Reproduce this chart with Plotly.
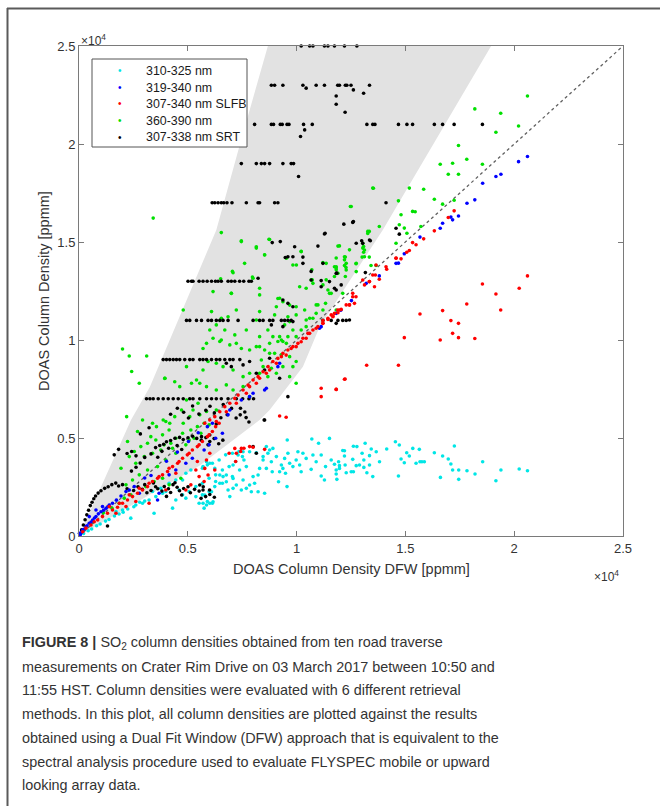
import plotly.graph_objects as go

# ---------------- data (both axes in units of 10^4 ppmm) ----------------
series_names = ["310-325 nm", "319-340 nm", "307-340 nm SLFB", "360-390 nm", "307-338 nm SRT"]
series_colors = ["#00e6e6", "#0000ff", "#ff0000", "#00e000", "#000000"]

cyan_pts = [
    (2.061,0.333),(2.023,0.342),(1.939,0.337),(1.916,0.282),(1.855,0.379),(1.820,0.316),(1.783,0.333),
    (1.745,0.337),(1.745,0.289),(1.725,0.459),(1.717,0.337),(1.709,0.367),(1.697,0.393),(1.671,0.408),
    (1.661,0.299),(1.633,0.425),(1.587,0.379),(1.567,0.379),(1.549,0.371),(1.534,0.447),(1.518,0.408),
    (1.506,0.425),(1.495,0.374),(1.480,0.393),(1.472,0.464),(1.468,0.306),(1.454,0.481),(1.414,0.444),
    (1.381,0.379),(1.366,0.430),(1.350,0.303),(1.343,0.444),(1.335,0.410),(1.335,0.362),(1.323,0.323),
    (1.315,0.473),(1.309,0.388),(1.309,0.350),(1.301,0.422),(1.277,0.456),(1.274,0.359),(1.261,0.458),
    (1.261,0.328),(1.251,0.328),(1.228,0.323),(1.223,0.362),(1.220,0.435),(1.220,0.408),(1.197,0.359),
    (1.193,0.379),(1.185,0.289),(1.182,0.337),(1.182,0.316),(1.174,0.366),(1.151,0.498),(1.576,0.379),
    (1.564,0.442),(1.212,0.436),(1.258,0.391),(1.289,0.362),(1.159,0.388),(1.197,0.345),
    (0.957,0.490),(1.070,0.495),(1.101,0.473),(1.133,0.354),(1.128,0.286),(1.113,0.306),(1.090,0.379),
    (1.067,0.340),(1.044,0.396),(1.029,0.422),(1.021,0.328),(0.998,0.388),(0.983,0.354),(1.006,0.430),
    (0.960,0.422),(0.945,0.396),(0.930,0.362),(0.922,0.328),(0.949,0.320),(0.917,0.277),(0.956,0.252),
    (0.907,0.405),(0.884,0.379),(0.888,0.328),(0.868,0.422),(0.861,0.345),(0.891,0.447),(0.876,0.439),
    (0.846,0.388),(0.830,0.345),(0.823,0.311),(0.800,0.303),(0.807,0.269),(0.784,0.260),(0.792,0.226),
    (0.769,0.243),(0.746,0.235),(0.754,0.286),(0.723,0.260),(0.708,0.243),(0.685,0.235),(0.693,0.201),
    (0.677,0.277),(0.662,0.303),(0.647,0.269),(0.624,0.252),(0.616,0.175),(0.601,0.167),(0.586,0.158),
    (0.570,0.167),(0.578,0.209),(0.609,0.226),(0.738,0.337),(0.769,0.354),(0.708,0.362),(0.731,0.413),
    (0.754,0.430),(0.784,0.430),(0.815,0.425),(0.861,0.456),(0.846,0.405),(0.708,0.294),(0.647,0.311),
    (0.624,0.345),(0.601,0.371),(0.586,0.379),(0.570,0.354),(0.823,0.226),(0.853,0.218),(0.677,0.311),
    (0.937,0.345),(0.968,0.371),(1.014,0.362),(1.075,0.413),(1.113,0.413),
    (0.238,0.091),(0.345,0.116),(0.430,0.142),(0.445,0.184),(0.476,0.210),(0.506,0.227),(0.537,0.252),
    (0.567,0.269),(0.598,0.295),(0.628,0.312),(0.659,0.337),(0.690,0.354),(0.720,0.380),(0.751,0.405),
    (0.491,0.320),(0.514,0.337),(0.567,0.346),(0.590,0.363),(0.613,0.371),(0.644,0.388),(0.674,0.414),
    (0.705,0.422),(0.735,0.431),(0.758,0.388),(0.705,0.303),(0.659,0.269),(0.628,0.278),(0.598,0.227),
    (0.567,0.210),(0.537,0.201),(0.590,0.176),(0.613,0.167),(0.575,0.142),(0.552,0.167),(0.491,0.193),
    (0.460,0.235),(0.399,0.227),(0.376,0.244),(0.353,0.201),(0.322,0.184),(0.292,0.167),(0.261,0.158),
    (0.200,0.133),(0.170,0.125),(0.414,0.269),(0.445,0.286),(0.476,0.286),(0.384,0.218),(0.338,0.227),
    (0.021,0.013),(0.042,0.027),(0.058,0.036),(0.081,0.052),(0.097,0.061),(0.122,0.076),(0.138,0.084),
    (0.163,0.102),(0.184,0.112),(0.203,0.121),(0.224,0.138),(0.252,0.149),(0.279,0.172),(0.302,0.178),
]

blue_pts = [
    (2.061,1.936),(2.020,1.910),(1.939,1.846),(1.916,1.834),(1.855,1.800),(1.819,1.715),(1.783,1.698),
    (1.744,1.633),(1.717,1.613),(1.709,1.627),(1.671,1.596),(1.660,1.570),(1.567,1.525),(1.495,1.440),
    (1.468,1.392),(1.457,1.391),(1.320,1.289),(1.380,1.327),(1.252,1.201),(1.203,1.152),
    (1.182,1.136),(1.113,1.068),(1.105,1.060),(0.914,0.864),(0.922,0.881),(0.861,0.754),(0.853,0.745),
    (0.800,0.728),(0.784,0.711),(0.746,0.694),(0.693,0.643),(0.685,0.618),
    (0.002,0.014),(0.017,0.031),(0.032,0.048),(0.047,0.065),(0.063,0.082),(0.078,0.099),(0.101,0.124),
    (0.124,0.141),(0.139,0.158),(0.154,0.167),(0.078,0.133),(0.108,0.150),(0.047,0.099),(0.216,0.227),
    (0.231,0.235),(0.254,0.252),(0.277,0.218),(0.368,0.218),(0.361,0.184),(0.414,0.312),(0.445,0.337),
    (0.491,0.371),(0.521,0.397),(0.575,0.439),(0.598,0.465),(0.628,0.499),(0.659,0.524),(0.590,0.558),
    (0.613,0.575),(0.006,0.007),(0.011,0.018),(0.026,0.036),(0.037,0.052),(0.056,0.071),(0.071,0.092),
    (0.089,0.113),(0.113,0.131),(0.132,0.149),(0.172,0.183),(0.193,0.204),(0.302,0.296),(0.331,0.309),
    (0.402,0.381),(0.452,0.428),(0.503,0.482),(0.548,0.527),
]

red_pts = [
    (1.854,1.286),(1.916,1.235),(1.938,1.153),(2.023,1.264),(1.782,1.184),(1.671,1.150),(1.709,1.099),
    (1.744,1.085),(1.567,1.133),(1.717,1.034),(1.744,1.012),(1.819,1.008),(1.660,1.000),(1.495,1.012),
    (1.468,0.871),(1.322,0.871),(1.223,0.801),(1.182,0.748),(1.304,1.306),(1.334,1.298),(1.258,1.238),
    (1.266,1.187),(1.243,1.179),(1.273,1.221),(1.189,1.153),(1.174,1.136),(1.159,1.128),(2.061,1.327),
    (1.724,1.659),(1.697,1.625),(1.633,1.557),(1.584,1.516),(1.549,1.486),(1.533,1.497),(1.518,1.457),
    (1.506,1.448),(1.480,1.414),(1.457,1.418),(1.414,1.361),(1.362,1.332),(1.380,1.310),
    (1.457,1.417),(1.411,1.374),(1.365,1.383),(1.350,1.332),(1.335,1.298),(1.312,1.281),(1.258,1.221),
    (1.228,1.179),(1.197,1.153),(1.167,1.119),(1.144,1.111),(1.121,1.085),(1.090,1.060),(1.060,1.034),
    (1.243,1.179),(1.358,1.272),
    (0.578,0.575),(0.601,0.592),(0.624,0.609),(0.647,0.634),(0.670,0.660),(0.693,0.677),(0.716,0.702),
    (0.731,0.719),(0.754,0.745),(0.777,0.770),(0.800,0.796),(0.823,0.813),(0.846,0.838),(0.869,0.864),
    (0.891,0.890),(0.914,0.906),(0.937,0.932),(0.960,0.949),(0.983,0.966),(1.006,0.983),(1.029,1.009),
    (1.052,1.034),(1.075,1.051),(1.098,1.068),(1.121,1.085),(1.144,1.105),(1.167,1.122),(1.190,1.139),
    (1.205,1.156),(0.631,0.584),(0.677,0.634),(0.723,0.677),(0.769,0.728),(0.815,0.779),(0.861,0.830),
    (0.907,0.881),(0.952,0.923),(0.998,0.966),(1.044,1.009),(0.784,0.762),(0.830,0.805),(0.876,0.847),
    (0.930,0.915),(0.975,0.957),(1.021,0.991),(1.121,1.099),(1.113,0.754),(1.113,0.711),(1.182,0.748),
    (1.220,0.800),(0.922,0.612),(0.952,0.606),
    (0.017,0.022),(0.032,0.040),(0.055,0.056),(0.070,0.073),(0.086,0.082),(0.108,0.099),(0.131,0.116),
    (0.154,0.133),(0.177,0.147),(0.200,0.167),(0.223,0.184),(0.246,0.201),(0.269,0.218),(0.292,0.235),
    (0.315,0.252),(0.338,0.278),(0.361,0.295),(0.384,0.312),(0.407,0.329),(0.430,0.354),(0.453,0.371),
    (0.476,0.397),(0.498,0.414),(0.521,0.439),(0.544,0.456),(0.567,0.482),(0.590,0.507),(0.613,0.533),
    (0.628,0.558),(0.644,0.575),(0.139,0.150),(0.185,0.167),(0.231,0.210),(0.277,0.244),(0.322,0.269),
    (0.368,0.303),(0.414,0.346),(0.460,0.380),(0.506,0.422),(0.552,0.465),(0.598,0.516),(0.216,0.150),
    (0.261,0.176),(0.170,0.116),(0.322,0.167),(0.399,0.235),(0.445,0.320),(0.491,0.235),(0.537,0.337),
    (0.552,0.303),(0.575,0.278),(0.544,0.380),(0.514,0.261),(0.720,0.380),(0.743,0.431),(0.758,0.448),
    (0.690,0.422),(0.716,0.447),(0.746,0.447),(0.784,0.456),(0.800,0.453),(0.723,0.422),(0.853,0.442),
    (0.586,0.388),(0.578,0.345),(0.593,0.311),(0.624,0.337),(0.601,0.422),
]

green_pts = [
    (2.061,2.245),(1.819,2.179),(1.938,2.157),(2.020,2.092),(1.916,2.060),(1.744,1.992),(1.782,1.922),
    (1.854,1.897),(1.660,1.897),(1.717,1.902),(1.697,1.846),(1.744,1.846),(1.518,1.775),(1.584,1.769),
    (1.350,1.775),(1.633,1.718),(1.468,1.710),(1.671,1.693),(1.724,1.713),(1.533,1.656),(1.545,1.654),
    (1.247,1.681),(1.480,1.639),(1.571,1.579),(1.380,1.579),(1.472,1.588),(1.495,1.571),(1.507,1.545),
    (1.327,1.554),(1.334,1.554),(1.457,1.494),(1.197,1.480),(1.308,1.477),(1.308,1.448),(1.301,1.423),
    (1.334,1.423),(1.224,1.423),(1.365,1.380),(1.342,1.380),(1.273,1.389),(1.227,1.370),(1.220,1.380),
    (1.182,1.367),(1.224,1.324),(1.174,1.324),
    (0.341,1.622),(1.353,1.774),(1.251,1.681),(1.304,1.494),(1.304,1.469),(1.243,1.460),(1.021,1.452),
    (1.121,1.395),(1.182,1.418),(1.220,1.409),(1.182,1.358),(1.136,1.307),(1.070,1.307),(1.070,1.358),
    (0.853,1.435),(0.873,1.514),(0.815,1.469),(0.746,1.506),(0.654,1.548),(0.705,1.350),(0.651,1.312),
    (0.797,1.321),
    (0.746,1.502),(0.876,1.513),(0.761,1.391),(0.708,1.343),(0.999,1.383),(1.174,1.374),(1.190,1.479),
    (1.072,1.306),(1.075,1.289),(1.044,1.264),(1.121,1.281),(1.151,1.238),(1.212,1.238),(1.098,1.179),
    (1.133,1.187),(1.182,1.153),(0.914,1.212),(0.937,1.195),(0.968,1.178),(0.998,1.170),(0.830,1.264),
    (0.700,1.238),(0.616,1.247),(0.479,1.153),(0.723,1.153),(0.685,1.119),(0.654,1.111),(0.815,1.102),
    (0.830,1.145),(0.899,1.128),(0.960,1.119),(0.998,1.128),(1.044,1.102),(1.075,1.111),(1.090,1.136),
    (1.121,1.153),(0.945,1.077),(0.983,1.051),(1.021,1.051),(1.044,1.068),(0.998,1.017),(0.960,1.017),
    (0.937,0.992),(0.914,0.992),(0.891,1.017),(0.868,1.051),(0.830,1.017),(0.769,1.051),(0.716,1.026),
    (0.670,1.051),(0.631,1.077),(0.601,1.051),(0.570,0.957),(0.586,0.983),(0.616,1.009),(0.654,1.000),
    (0.693,0.975),(0.723,0.983),(0.746,0.957),(0.784,0.949),(0.815,0.966),(0.853,0.949),(0.899,0.932),
    (0.930,0.924),(0.968,0.915),(0.998,0.890),(0.937,0.864),(0.907,0.830),(0.868,0.813),(0.830,0.830),
    (0.784,0.830),(0.754,0.813),(0.708,0.847),(0.662,0.864),(0.631,0.881),(0.593,0.890),(0.570,0.847),
    (0.540,0.796),(0.494,0.864),(0.555,0.779),(0.394,0.804),(0.440,0.787),(0.463,0.762),(0.517,0.779),
    (0.586,0.762),(0.631,0.745),(0.677,0.771),(0.708,0.745),(0.754,0.762),(0.784,0.711),(0.494,0.694),
    (0.547,0.677),(0.524,0.643),(0.471,0.643),(0.440,0.609),(0.417,0.575),(0.387,0.592),(0.356,0.558),
    (0.479,0.575),(0.509,0.609),(0.555,0.618),(0.586,0.635),(0.631,0.643),(0.968,0.813),(0.998,0.779),
    (0.884,0.856),
    (0.200,0.954),(0.231,0.918),(0.311,0.918),(0.242,0.839),(0.277,0.779),(0.219,0.609),(0.395,0.805),
    (0.609,1.145),(0.647,0.992),(0.700,1.238),(0.830,1.230),(0.922,1.213),
    (0.292,0.592),(0.338,0.575),(0.399,0.584),(0.414,0.541),(0.384,0.516),(0.353,0.490),(0.315,0.473),
    (0.284,0.456),(0.254,0.431),(0.231,0.405),(0.261,0.371),(0.300,0.405),(0.338,0.422),(0.376,0.439),
    (0.422,0.473),(0.445,0.499),(0.476,0.524),(0.514,0.541),(0.544,0.558),(0.575,0.575),(0.506,0.490),
    (0.445,0.422),(0.399,0.388),(0.361,0.354),(0.315,0.337),(0.277,0.312),(0.246,0.286),(0.216,0.261),
    (0.238,0.210),(0.208,0.193),(0.185,0.167),(0.307,0.252),(0.345,0.278),(0.384,0.295),(0.414,0.261),
    (0.468,0.295),(0.430,0.448),(0.391,0.465),(0.330,0.507),(0.491,0.465),(0.529,0.499),(0.560,0.524),
    (0.598,0.567),(0.269,0.533),(0.223,0.482),(0.193,0.346),
    (0.815,1.476),(0.853,1.434),(1.021,1.451),(0.953,1.417),(0.983,1.383),(1.067,1.306),(1.136,1.391),
    (1.182,1.374),(1.220,1.425),(1.228,1.391),(1.228,1.357),(1.190,1.340),(1.144,1.255),(1.159,1.238),
    (1.090,1.179),(1.060,1.111),(0.907,1.170),(1.014,1.272),(1.037,1.153),(0.968,1.094),(0.922,1.017),
    (0.930,1.000),(0.953,0.983),(0.876,0.983),(0.830,0.966),(0.876,0.932),(0.838,0.898),(0.846,0.864),
    (0.983,0.864),(0.800,1.315),(1.312,1.425),(1.312,1.459),(1.327,1.544),(1.274,1.391),(1.274,1.349),
    (0.061,0.072),(0.112,0.118),(0.152,0.141),
]

black_pts = [
    # row at 2.5
    (1.021,2.5),(1.060,2.5),(1.075,2.5),(1.128,2.5),(1.144,2.5),(1.174,2.5),(1.220,2.5),(1.277,2.5),
    # row at 2.3
    (0.884,2.3),(0.899,2.3),(0.937,2.3),(1.029,2.3),(1.090,2.3),(1.128,2.3),(1.189,2.3),(1.197,2.3),
    (1.224,2.3),(1.231,2.3),(1.250,2.3),(1.335,2.3),(1.044,2.285),(1.261,2.276),(1.308,2.259),
    (1.182,2.245),(1.182,2.203),(1.223,2.162),
    # row at 2.1
    (0.807,2.1),(0.884,2.1),(0.894,2.1),(0.925,2.1),(0.934,2.1),(0.956,2.1),(0.965,2.1),(1.032,2.1),
    (1.072,2.1),(1.323,2.1),(1.350,2.1),(1.360,2.1),(1.468,2.1),(1.507,2.1),(1.533,2.1),(1.633,2.1),
    (1.671,2.1),(1.724,2.1),(1.854,2.1),(1.037,2.072),(1.018,2.038),
    # row at 1.9
    (0.746,1.9),(0.815,1.9),(0.838,1.9),(0.853,1.9),(0.876,1.9),(0.937,1.9),(0.975,1.9),(0.986,1.9),
    (1.009,1.834),
    # row at 1.7
    (0.612,1.7),(0.624,1.7),(0.639,1.7),(0.654,1.7),(0.665,1.7),(0.680,1.7),(0.703,1.7),(0.769,1.7),
    (0.823,1.7),(0.830,1.7),(0.899,1.7),(0.914,1.7),(1.411,1.7),
    # scattered 1.3 - 1.7
    (1.217,1.591),(1.258,1.600),(1.131,1.545),(1.274,1.494),(0.888,1.497),(0.925,1.502),(0.948,1.421),
    (1.029,1.423),(1.067,1.350),(1.185,1.341),(0.823,1.315),(0.991,1.476),(0.960,1.425),(0.983,1.425),
    (1.029,1.391),(1.098,1.479),(1.128,1.541),(1.121,1.391),(1.182,1.340),(1.067,1.306),(1.113,1.303),
    (1.151,1.298),(1.174,1.264),(1.205,1.281),(1.261,1.604),(1.457,1.570),(1.472,1.540),(1.299,1.506),
    (1.339,1.506),(1.316,1.344),(1.304,1.493),(1.335,1.510),(1.113,1.272),(1.182,1.255),
    # row at 1.3
    (0.501,1.3),(0.517,1.3),(0.524,1.3),(0.552,1.3),(0.570,1.3),(0.589,1.3),(0.609,1.3),(0.627,1.3),
    (0.639,1.3),(0.654,1.3),(0.685,1.3),(0.700,1.3),(0.716,1.3),(0.738,1.3),(0.757,1.3),(0.781,1.3),
    (0.792,1.3),
    # row at 1.1
    (0.494,1.1),(0.509,1.1),(0.540,1.1),(0.563,1.1),(0.593,1.1),(0.609,1.1),(0.631,1.1),(0.647,1.1),
    (0.662,1.1),(0.685,1.1),(0.731,1.1),(0.800,1.1),(0.830,1.1),(0.846,1.1),(0.876,1.1),(0.891,1.1),
    (0.930,1.1),(0.945,1.1),(0.960,1.1),(0.975,1.1),(1.121,1.1),(1.159,1.1),(1.190,1.1),(1.212,1.1),
    (1.228,1.1),(0.884,1.077),(0.937,1.068),(0.983,1.094),(1.182,1.085),(1.243,1.102),(0.983,1.170),
    (0.937,1.204),(0.960,1.187),
    # row at 0.9
    (0.387,0.9),(0.402,0.9),(0.417,0.9),(0.433,0.9),(0.448,0.9),(0.463,0.9),(0.486,0.9),(0.509,0.9),
    (0.524,0.9),(0.555,0.9),(0.570,0.9),(0.586,0.9),(0.609,0.9),(0.631,0.9),(0.647,0.9),(0.670,0.9),
    (0.693,0.9),(0.708,0.9),(0.739,0.9),(0.677,0.881),(0.700,0.864),(0.754,0.873),(0.784,0.890),
    (0.815,0.830),(0.853,0.847),(0.922,0.805),(0.876,0.907),(0.853,0.592),(0.960,0.711),
    # row at 0.7
    (0.310,0.7),(0.326,0.7),(0.341,0.7),(0.364,0.7),(0.387,0.7),(0.410,0.7),(0.433,0.7),(0.456,0.7),
    (0.479,0.7),(0.509,0.7),(0.524,0.7),(0.555,0.7),(0.586,0.7),(0.609,0.7),(0.631,0.7),(0.654,0.7),
    (0.685,0.7),(0.723,0.7),(0.752,0.7),(0.781,0.7),(0.802,0.7),
    # cluster 0.55 - 0.7
    (0.452,0.652),(0.481,0.631),(0.522,0.663),(0.551,0.622),(0.583,0.641),(0.602,0.662),(0.622,0.628),
    (0.652,0.603),(0.681,0.619),(0.701,0.651),(0.722,0.602),(0.741,0.618),(0.762,0.633),(0.781,0.582),
    (0.663,0.671),(0.503,0.602),(0.421,0.621),(0.631,0.572),(0.742,0.652),(0.768,0.604),
    # band 0.4 - 0.5
    (0.352,0.451),(0.371,0.462),(0.389,0.468),(0.402,0.481),(0.421,0.487),(0.441,0.499),(0.462,0.503),
    (0.479,0.492),(0.501,0.501),(0.522,0.509),(0.541,0.498),(0.562,0.489),(0.583,0.502),(0.601,0.482),
    (0.621,0.497),(0.642,0.471),(0.661,0.489),(0.381,0.432),(0.412,0.448),(0.451,0.462),(0.472,0.441),
    (0.302,0.401),(0.331,0.419),(0.362,0.402),(0.281,0.372),(0.262,0.351),(0.241,0.331),(0.563,0.507),
    (0.593,0.465),(0.601,0.515),(0.800,0.456),(0.815,0.422),
    (0.162,0.414),(0.182,0.442),(0.221,0.421),(0.242,0.431),(0.262,0.409),(0.851,0.592),(0.322,0.552),
    (0.282,0.521),
    # band around 0.25
    (0.221,0.241),(0.251,0.232),(0.271,0.251),(0.291,0.238),(0.312,0.221),(0.331,0.232),(0.352,0.251),
    (0.362,0.241),(0.381,0.229),(0.392,0.252),(0.411,0.241),(0.421,0.222),(0.432,0.262),(0.451,0.249),
    (0.462,0.231),(0.481,0.242),(0.501,0.251),(0.512,0.221),(0.531,0.238),(0.552,0.229),(0.571,0.251),
    (0.582,0.201),(0.601,0.212),(0.622,0.198),(0.561,0.192),(0.302,0.262),(0.342,0.271),(0.441,0.272),
    (0.402,0.202),(0.472,0.209),(0.555,0.260),(0.570,0.235),(0.600,0.235),(0.131,0.051),
    # steep rise near the origin
    (0.005,0.010),(0.012,0.031),(0.020,0.056),(0.028,0.083),(0.036,0.108),(0.044,0.131),(0.052,0.155),
    (0.060,0.172),(0.068,0.190),(0.076,0.204),(0.088,0.219),(0.101,0.231),(0.118,0.243),(0.134,0.251),
    (0.151,0.262),(0.169,0.270),(0.182,0.255),(0.200,0.262),
]

# shaded envelope (outline vertices)
region_x = [0.0, 0.239, 0.326, 0.417, 0.631, 0.740, 0.868, 1.894, 1.396, 1.106, 1.029, 0.876, 0.830, 0.555, 0.0]
region_y = [0.0, 0.592, 0.762, 1.000, 1.561, 2.000, 2.500, 2.500, 1.561, 1.068, 0.864, 0.643, 0.592, 0.360, 0.0]

# 1:1 reference line
identity = [0.0, 2.5]

tick_vals = [0, 0.5, 1, 1.5, 2, 2.5]
tick_text = ["0", "0.5", "1", "1.5", "2", "2.5"]

caption_lines = [
    "<b>FIGURE 8 |</b> SO<sub>2</sub> column densities obtained from ten road traverse",
    "measurements on Crater Rim Drive on 03 March 2017 between 10:50 and",
    "11:55 HST. Column densities were evaluated with 6 different retrieval",
    "methods. In this plot, all column densities are plotted against the results",
    "obtained using a Dual Fit Window (DFW) approach that is equivalent to the",
    "spectral analysis procedure used to evaluate FLYSPEC mobile or upward",
    "looking array data.",
]

# ---------------- layout geometry (pixels) ----------------
W_FIG, H_FIG = 660, 806
L, T, PW, PH = 79, 46, 544, 490


def px_x(px):
    return (px - L) / PW


def px_y(py):
    return (T + PH - py) / PH


FONT = "Liberation Sans, Arial, sans-serif"

fig = go.Figure()

fig.add_trace(go.Scatter(x=region_x, y=region_y, mode="lines", fill="toself",
                         fillcolor="#e2e2e2", line=dict(width=0), hoverinfo="skip",
                         showlegend=False))
fig.add_trace(go.Scatter(x=identity, y=identity, mode="lines",
                         line=dict(color="#606060", width=1.3, dash="dot"),
                         showlegend=False, hoverinfo="skip"))

all_pts = [cyan_pts, blue_pts, red_pts, green_pts, black_pts]
draw_order = [0, 3, 4, 1, 2]
for i in draw_order:
    pts = all_pts[i]
    fig.add_trace(go.Scatter(
        x=[p[0] for p in pts], y=[p[1] for p in pts], mode="markers",
        name=series_names[i], showlegend=False,
        marker=dict(color=series_colors[i], size=3.6, line=dict(width=0)),
        cliponaxis=False,
    ))

axis_common = dict(
    range=[0, 2.5], tickvals=tick_vals, ticktext=tick_text, showgrid=False, zeroline=False,
    showline=True, linecolor="#7a7a7a", linewidth=1, mirror="ticks", ticks="inside",
    ticklen=5, tickcolor="#7a7a7a", tickfont=dict(family=FONT, size=13, color="#333333"),
)

fig.update_layout(
    width=W_FIG, height=H_FIG,
    margin=dict(l=L, r=W_FIG - L - PW, t=T, b=H_FIG - T - PH, pad=0),
    paper_bgcolor="white", plot_bgcolor="white",
    xaxis=dict(axis_common),
    yaxis=dict(axis_common),
    showlegend=False,
)

annotations = [
    dict(text="DOAS Column Density DFW [ppmm]", x=0.5, y=px_y(569), xref="paper", yref="paper",
         xanchor="center", yanchor="middle", showarrow=False,
         font=dict(family=FONT, size=14.5, color="#333333")),
    dict(text="DOAS Column Density [ppmm]", x=px_x(44), y=0.5, xref="paper", yref="paper",
         xanchor="center", yanchor="middle", showarrow=False, textangle=-90,
         font=dict(family=FONT, size=14.5, color="#333333")),
    dict(text="\u00d710<sup>4</sup>", x=px_x(79), y=px_y(40), xref="paper", yref="paper",
         xanchor="left", yanchor="middle", showarrow=False,
         font=dict(family=FONT, size=12, color="#333333")),
    dict(text="\u00d710<sup>4</sup>", x=px_x(592), y=px_y(576), xref="paper", yref="paper",
         xanchor="left", yanchor="middle", showarrow=False,
         font=dict(family=FONT, size=12, color="#333333")),
]

# legend box (drawn by hand to reproduce the compact MATLAB legend spacing)
LEG_X0, LEG_Y0, LEG_X1, LEG_Y1 = 92, 59, 247, 147
leg_row0, leg_dy = 71, 16.5
for k in range(len(series_names)):
    yy = px_y(leg_row0 + k * leg_dy)
    annotations.append(dict(text="\u2022", x=px_x(120), y=yy, xref="paper", yref="paper",
                            xanchor="center", yanchor="middle", showarrow=False,
                            font=dict(family=FONT, size=10, color=series_colors[k])))
    annotations.append(dict(text=series_names[k], x=px_x(144), y=yy, xref="paper", yref="paper",
                            xanchor="left", yanchor="middle", showarrow=False,
                            font=dict(family=FONT, size=12.4, color="#1a1a1a")))

cap_y0, cap_dy = 643, 23.7
for k, line in enumerate(caption_lines):
    annotations.append(dict(
        text=line, x=px_x(20), y=px_y(cap_y0 + k * cap_dy), xref="paper", yref="paper",
        xanchor="left", yanchor="middle", showarrow=False, align="left",
        font=dict(family=FONT, size=14.4, color="#333333"),
    ))
fig.update_layout(annotations=annotations)

fig.add_shape(type="rect", xref="paper", yref="paper",
              x0=px_x(LEG_X0), x1=px_x(LEG_X1), y0=px_y(LEG_Y1), y1=px_y(LEG_Y0),
              fillcolor="white", line=dict(color="#555555", width=1), layer="above")

# outer figure frame (left and top edges)
fig.add_shape(type="line", xref="paper", yref="paper", x0=px_x(7.5), x1=px_x(7.5),
              y0=px_y(8), y1=px_y(806), line=dict(color="#5a5a5a", width=2))
fig.add_shape(type="line", xref="paper", yref="paper", x0=px_x(7), x1=px_x(660),
              y0=px_y(8.5), y1=px_y(8.5), line=dict(color="#5a5a5a", width=2))

fig.write_html("out.html")
